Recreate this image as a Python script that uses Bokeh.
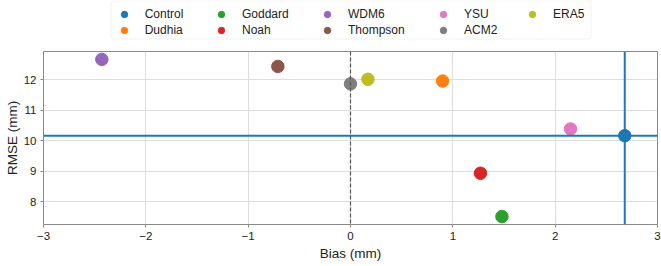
from bokeh.plotting import figure
from bokeh.layouts import column
from bokeh.models import (ColumnDataSource, Legend, LegendItem, Span, Range1d,
                          FixedTicker, CustomJSTickFormatter, BoxAnnotation)
from bokeh.embed import file_html
from bokeh.resources import INLINE

# Data
schemes = ["Control", "Dudhia", "Goddard", "Noah", "WDM6", "Thompson", "YSU", "ACM2", "ERA5"]
bias = [2.68, 0.90, 1.48, 1.27, -2.43, -0.71, 2.15, 0.00, 0.17]
rmse = [10.17, 11.96, 7.52, 8.94, 12.67, 12.44, 10.39, 11.87, 12.02]
colors = ["#1f77b4", "#ff7f0e", "#2ca02c", "#d62728", "#9467bd",
          "#8c564b", "#e377c2", "#7f7f7f", "#bcbd22"]
x_ticks = [-3, -2, -1, 0, 1, 2, 3]
y_ticks = [8, 9, 10, 11, 12]

FONT = "Liberation Sans"
LEFT = 43

# ---- main plot ----
p = figure(width=661, height=215, output_backend="svg", toolbar_location=None,
           x_range=Range1d(-3, 3), y_range=Range1d(7.26, 12.93),
           min_border_left=LEFT, min_border_right=4, min_border_top=0,
           min_border_bottom=42)

p.xaxis.axis_label = "Bias (mm)"
p.yaxis.axis_label = "RMSE (mm)"
p.xaxis.ticker = FixedTicker(ticks=x_ticks)
p.yaxis.ticker = FixedTicker(ticks=y_ticks)
fmt = CustomJSTickFormatter(code="return tick < 0 ? '\u2212' + Math.abs(tick) : String(tick);")
p.xaxis.formatter = fmt
p.yaxis.formatter = fmt

for ax in (p.xaxis[0], p.yaxis[0]):
    ax.axis_label_text_font = FONT
    ax.axis_label_text_font_size = "13.5px"
    ax.axis_label_text_font_style = "normal"
    ax.axis_label_text_color = "#222222"
    ax.major_label_text_font = FONT
    ax.major_label_text_font_size = "11.5px"
    ax.major_label_text_color = "#222222"
    ax.axis_line_color = None
    ax.major_tick_in = 0
    ax.major_tick_out = 3
    ax.major_tick_line_color = "#888888"
    ax.minor_tick_line_color = None
    ax.major_label_standoff = 4
p.xaxis.axis_label_standoff = 3
p.yaxis.axis_label_standoff = 1

p.outline_line_color = "#888888"
p.outline_line_width = 1
p.grid.grid_line_color = "#dddddd"
p.grid.grid_line_width = 1

p.add_layout(Span(location=0, dimension="height", line_color="#555555",
                  line_dash="4 2", line_width=1.2))
p.add_layout(Span(location=rmse[0], dimension="width", line_color=colors[0], line_width=2))
p.add_layout(Span(location=bias[0], dimension="height", line_color=colors[0], line_width=2))

for name, b, r, c in zip(schemes, bias, rmse, colors):
    src = ColumnDataSource(dict(x=[b], y=[r]))
    p.scatter("x", "y", source=src, size=12.5, fill_color=c, line_color=c)

# ---- legend strip above the plot (its ranges keep the proxy points out of view) ----
top = figure(width=661, height=51, output_backend="svg", toolbar_location=None,
             x_range=Range1d(100, 200), y_range=Range1d(100, 200),
             x_axis_location=None, y_axis_location=None,
             min_border_left=LEFT, min_border_right=4,
             min_border_top=0, min_border_bottom=0)
top.grid.visible = False
top.outline_line_color = None

# legend frame box (canvas pixels)
top.add_layout(BoxAnnotation(left=110.5, right=590.5, top=0.5, bottom=38.5,
                             left_units="canvas", right_units="canvas",
                             top_units="canvas", bottom_units="canvas",
                             fill_color="white", fill_alpha=1,
                             line_color="#d5d5d5", line_width=1,
                             border_radius=3, level="annotation"))

renderers = []
for name, b, r, c in zip(schemes, bias, rmse, colors):
    renderers.append(top.scatter(x=[b], y=[r], fill_color=c, line_color=c))

# one legend per column, two entries each
col_glyph_centers = [126.7, 224, 330, 446, 535]
for ci, gx in enumerate(col_glyph_centers):
    idx = [i for i in (2 * ci, 2 * ci + 1) if i < len(schemes)]
    items = [LegendItem(label=schemes[i], renderers=[renderers[i]]) for i in idx]
    lg = Legend(items=items, orientation="vertical",
                location=(gx - 13 - LEFT, 13 + (16 if len(idx) == 1 else 0)),
                label_text_font=FONT, label_text_font_size="12px",
                label_text_color="#222222",
                glyph_width=20, glyph_height=16, label_height=16,
                label_standoff=11, spacing=0, padding=3, margin=0,
                border_line_color=None, background_fill_alpha=0)
    top.add_layout(lg, "center")

layout = column(top, p, spacing=0)
open("out.html", "w").write(file_html(layout, INLINE))
